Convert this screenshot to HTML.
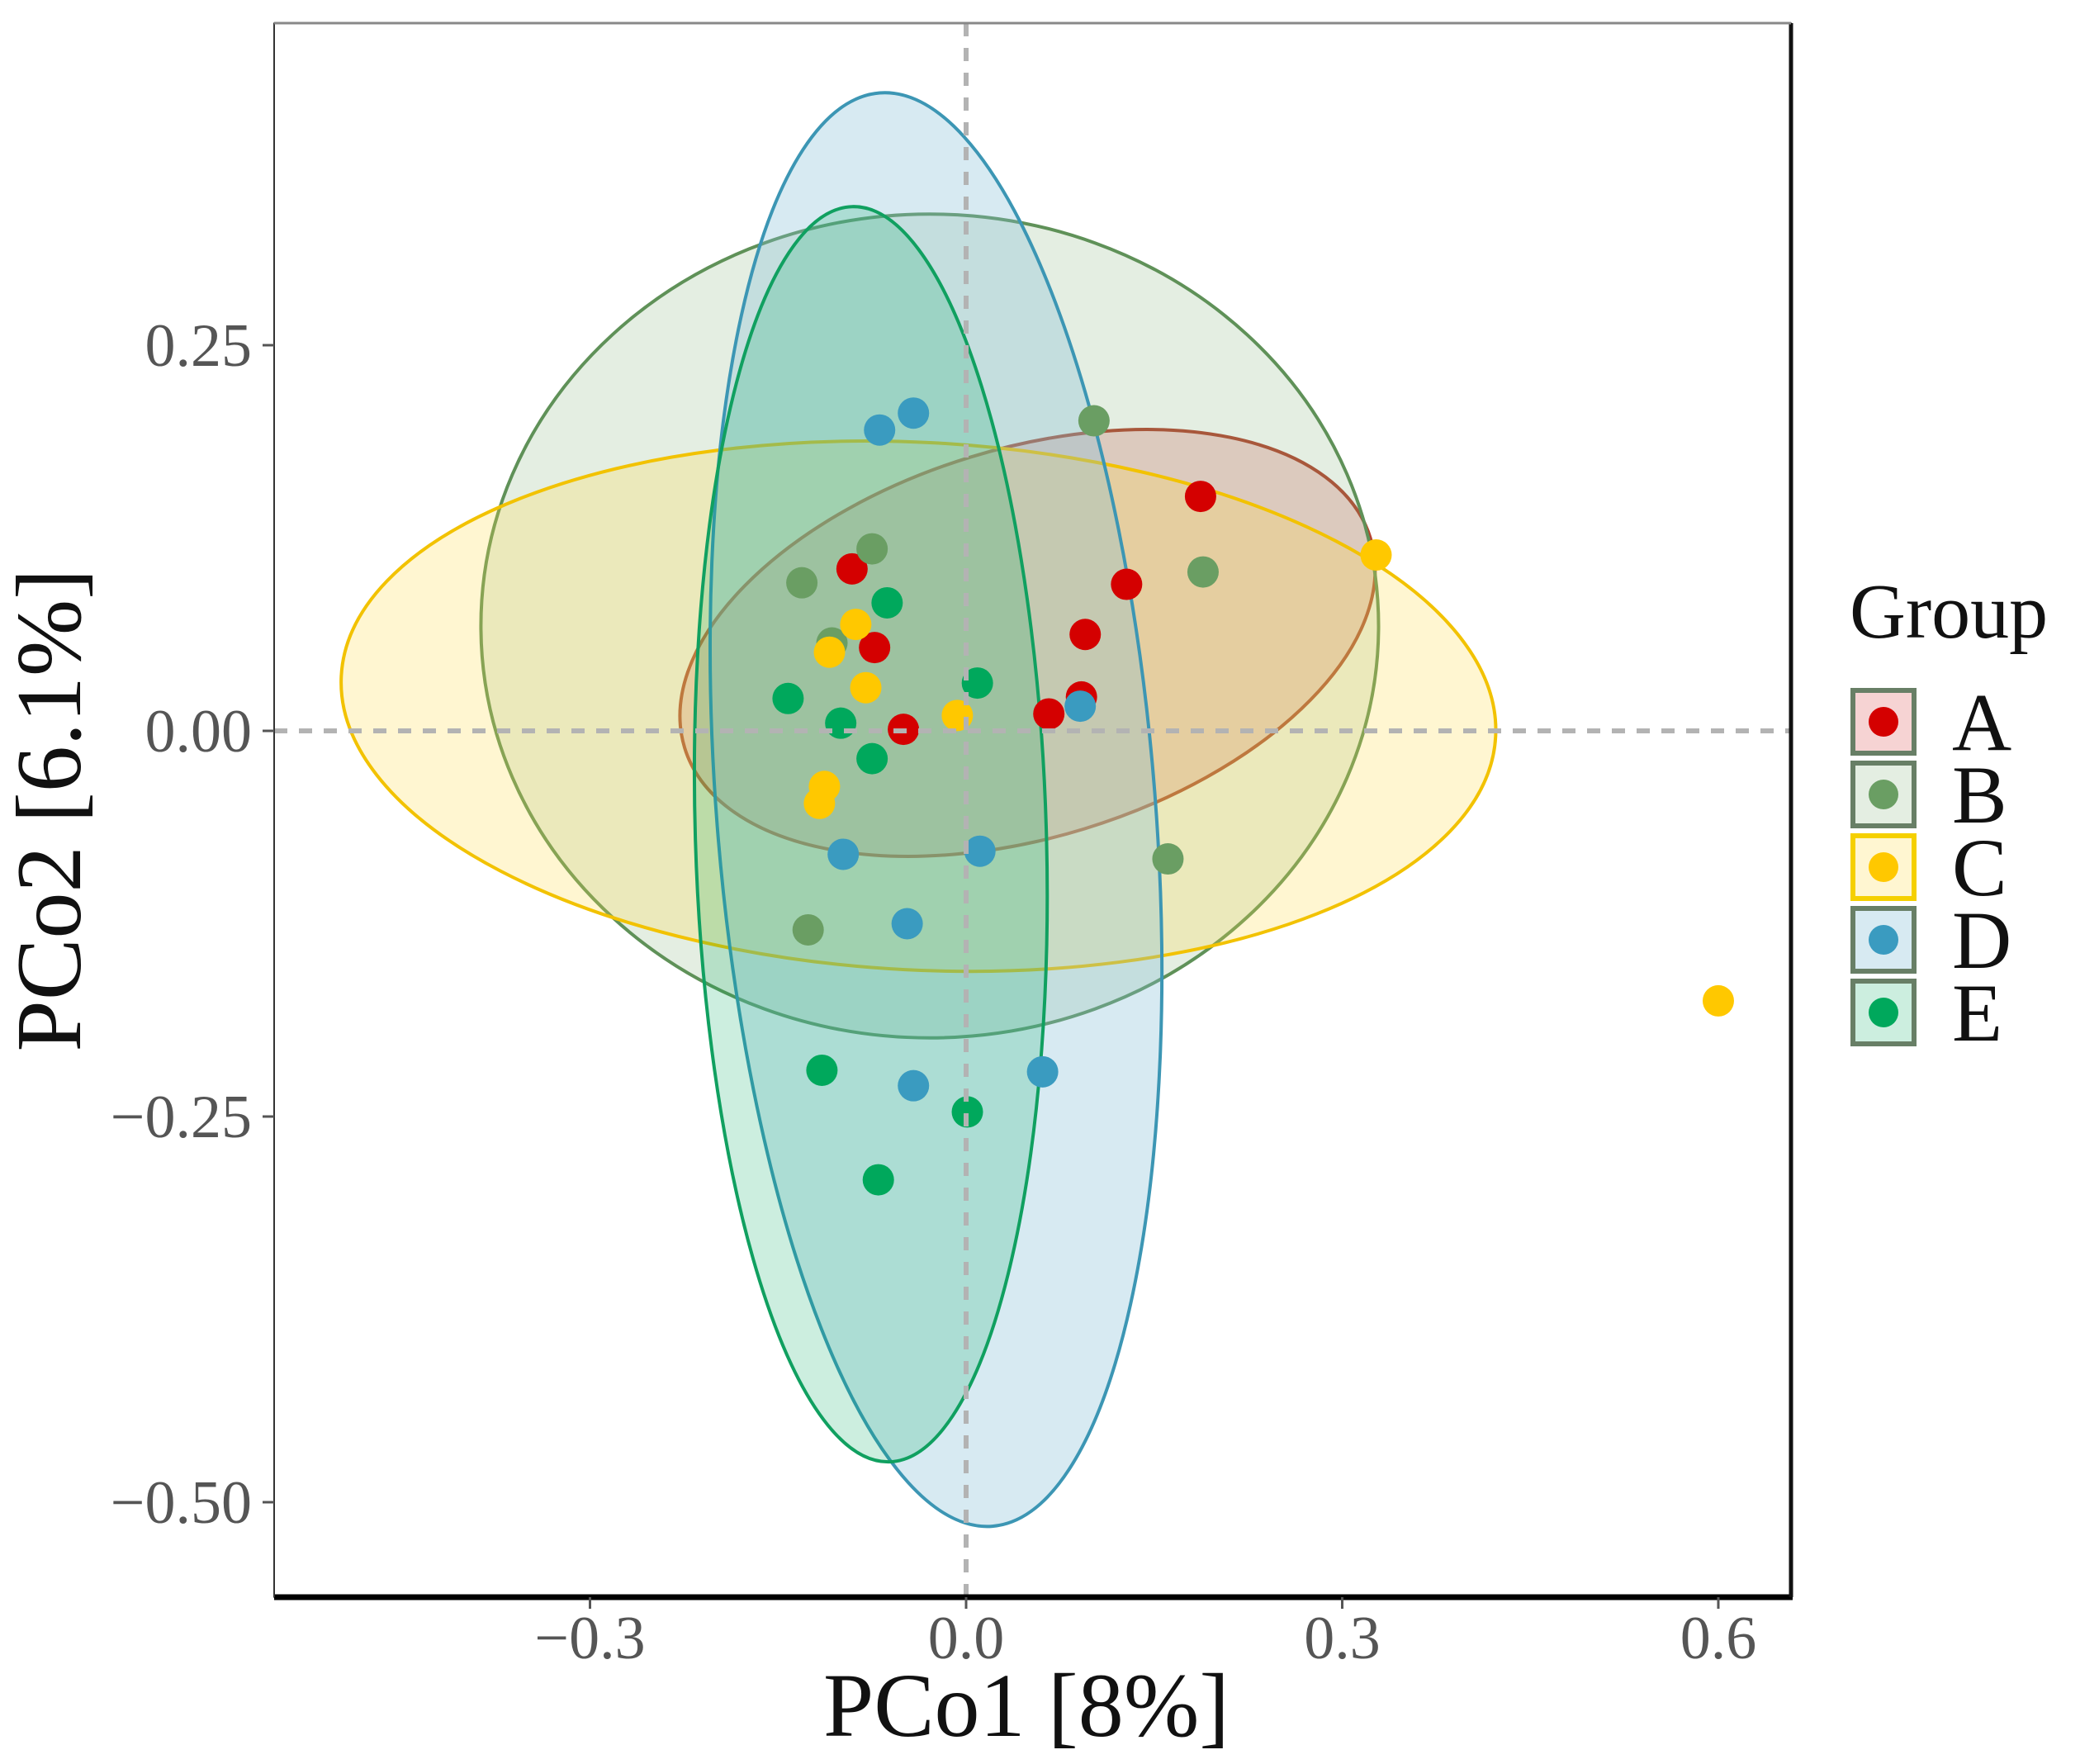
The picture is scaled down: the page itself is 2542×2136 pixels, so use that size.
<!DOCTYPE html>
<html><head><meta charset="utf-8"><style>
html,body{margin:0;padding:0;background:#fff;}
svg{display:block;font-family:"Liberation Serif","DejaVu Serif",serif;}
</style></head><body>
<svg id="chart" width="2542" height="2136" viewBox="0 0 2542 2136">
<rect x="0" y="0" width="2542" height="2136" fill="#fff"/>
<g id="ell"></g>
<g id="pts"></g>
<g id="axes"></g>
<g id="legend"></g>
</svg>
<script>
const groups = ["A","B","C","D","E"];
const pointColors = ["#d40000","#6a9e63","#ffc800","#3a9bc0","#00a85c"];
const fillColors = ["rgba(225,110,110,0.30)","rgba(120,170,110,0.20)","rgba(255,220,70,0.25)","rgba(130,190,215,0.32)","rgba(0,168,96,0.20)"];
const strokeColors = ["#b5432f","#5f9158","#f2c200","#3c96b4","#10a060"];
const xA = [0.187,0.128,0.095,0.092,0.066,-0.091,-0.073,-0.050];
const yA = [0.152,0.095,0.0625,0.022,0.011,0.105,0.054,0.001];
const xB = [0.102,0.189,0.161,-0.131,-0.075,-0.126,-0.107];
const yB = [0.201,0.103,-0.083,0.096,0.118,-0.129,0.057];
const xC = [0.327,0.600,-0.088,-0.109,-0.080,-0.007,-0.113,-0.117];
const yC = [0.114,-0.175,0.069,0.051,0.028,0.010,-0.036,-0.047];
const xD = [-0.069,-0.042,0.091,-0.098,0.011,-0.047,-0.042,0.061];
const yD = [0.195,0.206,0.016,-0.080,-0.078,-0.125,-0.230,-0.221];
const xE = [-0.063,0.009,-0.142,-0.100,-0.075,-0.115,0.001,-0.070];
const yE = [0.083,0.031,0.021,0.005,-0.018,-0.220,-0.247,-0.291];
const ellCx = [0.049,-0.029,-0.038,-0.024,-0.076];
const ellCy = [0.057,0.068,0.016,-0.051,-0.067];
const ellRx = [0.286,0.358,0.461,0.175,0.140];
const ellRy = [0.126,0.267,0.171,0.466,0.407];
const ellAngle = [-17,0,3,-4.5,-1.7];
const xTicks = [-0.3,0.0,0.3,0.6];
const xTickLabels = ["\u22120.3","0.0","0.3","0.6"];
const yTicks = [0.25,0.0,-0.25,-0.5];
const yTickLabels = ["0.25","0.00","\u22120.25","\u22120.50"];

const L=332,R=2169,T=28,B=1934;
const X0=1170, XS=1518.3, Y0=885, YS=1868;
function xs(v){return X0+v*XS;}
function ys(v){return Y0-v*YS;}
const NS="http://www.w3.org/2000/svg";
function mk(tag,attrs,parent){const e=document.createElementNS(NS,tag);for(const k in attrs)e.setAttribute(k,attrs[k]);parent.appendChild(e);return e;}
const ell=document.getElementById('ell'),pts=document.getElementById('pts'),axes=document.getElementById('axes'),leg=document.getElementById('legend');

const panel=mk('rect',{x:L,y:T,width:R-L,height:B-T,fill:'none',stroke:'#888','stroke-width':2},axes);



for(let i=0;i<groups.length;i++){
  const cx=xs(ellCx[i]),cy=ys(ellCy[i]);
  const e=mk('ellipse',{cx:cx,cy:cy,rx:ellRx[i]*XS,ry:ellRy[i]*YS,transform:`rotate(${ellAngle[i]} ${cx} ${cy})`,fill:fillColors[i],stroke:strokeColors[i],'stroke-width':4},ell);
  
  
}
const vz=mk('line',{x1:xs(0),x2:xs(0),y1:T,y2:B,stroke:'#b3b3b3','stroke-width':6,'stroke-dasharray':'16 14'},axes);


const hz=mk('line',{x1:L,x2:R,y1:ys(0),y2:ys(0),stroke:'#b3b3b3','stroke-width':6,'stroke-dasharray':'16 14'},axes);



const allX=[xA,xB,xC,xD,xE],allY=[yA,yB,yC,yD,yE];
for(let g=0;g<groups.length;g++){
  for(let j=0;j<allX[g].length;j++){
    const c=mk('circle',{cx:xs(allX[g][j]),cy:ys(allY[g][j]),r:19,fill:pointColors[g]},pts);
    
    
  }
}

mk('line',{x1:L,x2:R+2,y1:B,y2:B,stroke:'#000','stroke-width':7},axes);
mk('line',{x1:R,x2:R,y1:T,y2:B,stroke:'#111','stroke-width':5},axes);
mk('line',{x1:L,x2:L,y1:T,y2:B,stroke:'#333','stroke-width':2},axes);
mk('line',{x1:L,x2:R,y1:T,y2:T,stroke:'#888','stroke-width':3},axes);

for(let i=0;i<xTicks.length;i++){
  mk('line',{x1:xs(xTicks[i]),x2:xs(xTicks[i]),y1:B,y2:B+14,stroke:'#555','stroke-width':3},axes);
  const t=mk('text',{x:xs(xTicks[i]),y:2008,'text-anchor':'middle','font-size':74,fill:'#555'},axes);
  t.textContent=xTickLabels[i];
  
  
}
for(let i=0;i<yTicks.length;i++){
  mk('line',{x1:L-14,x2:L,y1:ys(yTicks[i]),y2:ys(yTicks[i]),stroke:'#555','stroke-width':3},axes);
  const t=mk('text',{x:305,y:ys(yTicks[i])+25,'text-anchor':'end','font-size':74,fill:'#555'},axes);
  t.textContent=yTickLabels[i];
  
  
}
const xt=mk('text',{x:1243,y:2102,'text-anchor':'middle','font-size':110,fill:'#111'},axes);
xt.textContent='PCo1 [8%]';


const yt=mk('text',{x:0,y:0,'text-anchor':'middle','font-size':112,fill:'#111',transform:'translate(97 981) rotate(-90)'},axes);
yt.textContent='PCo2 [6.1%]';



const lt=mk('text',{x:2240,y:772,'font-size':94,fill:'#111'},leg);
lt.textContent='Group';


for(let i=0;i<groups.length;i++){
  const y0=836+i*88;
  const g=mk('g',{},leg);
  
  
  mk('rect',{x:2244,y:y0,width:74,height:76,fill:fillColors[i],stroke:i==2?'#f5d000':'#687f66','stroke-width':6},g);
  mk('circle',{cx:2281,cy:y0+38,r:18,fill:pointColors[i]},g);
  const t=mk('text',{x:2364,y:y0+72,'font-size':100,fill:'#111'},g);
  t.textContent=groups[i];
}
</script>
</body></html>
